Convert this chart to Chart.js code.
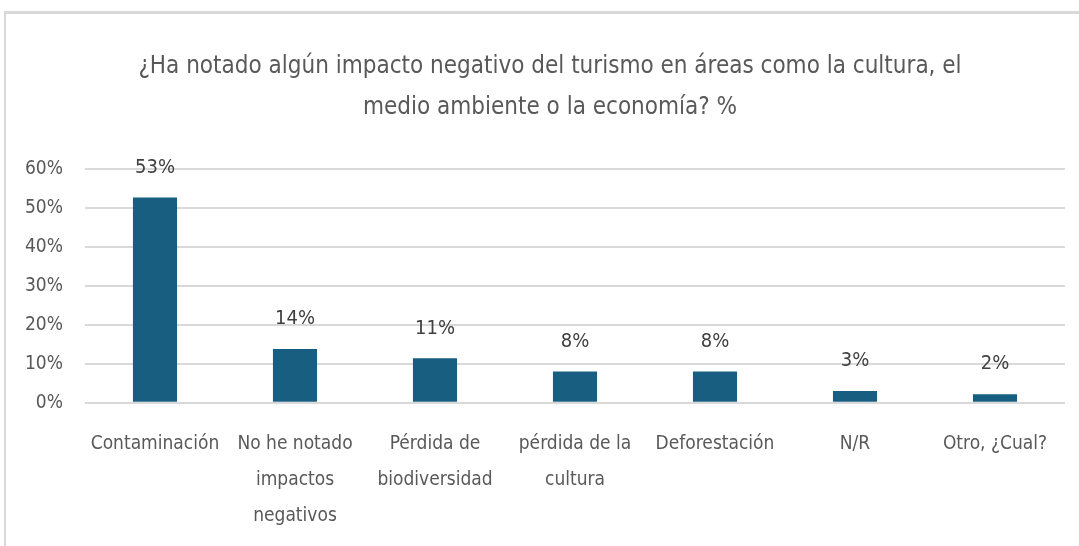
<!DOCTYPE html>
<html>
<head>
<meta charset="utf-8">
<script src="https://cdn.jsdelivr.net/npm/chart.js@4"></script>
<style>
  html, body { margin: 0; padding: 0; background: #fff; }
  .frame {
    position: absolute;
    left: 4px;
    top: 11px;
    width: 1100px;
    height: 560px;
    border-top: 3px solid #d9d9d9;
    border-left: 2px solid #d9d9d9;
  }
  .wrap {
    position: absolute;
    left: 0;
    top: 0;
    width: 1079px;
    height: 546px;
  }
</style>
</head>
<body>
<div class="frame"></div>
<div class="wrap"><canvas id="chart"></canvas></div>
<script>
const categories = [
  "Contaminación",
  ["No he notado", "impactos", "negativos"],
  ["Pérdida de", "biodiversidad"],
  ["pérdida de la", "cultura"],
  "Deforestación",
  "N/R",
  "Otro, ¿Cual?"
];
const values = [52.7, 13.8, 11.4, 8.0, 8.0, 3.0, 2.2];
const valueLabels = ["53%", "14%", "11%", "8%", "8%", "3%", "2%"];
const yTicks = [0, 10, 20, 30, 40, 50, 60];
const titleLines = [
  "¿Ha notado algún impacto negativo del turismo en áreas como la cultura, el",
  "medio ambiente o la economía? %"
];

const FONT = '"Liberation Sans Narrow", "DejaVu Sans Condensed", Roboto, sans-serif';
const TEXT = "#595959";

// title is drawn by hand so it can sit centred on the whole frame, not the padded box
const titlePlugin = {
  id: "titlePlugin",
  afterDraw(chart) {
    const ctx = chart.ctx;
    ctx.save();
    ctx.font = "24px " + FONT;
    ctx.fillStyle = TEXT;
    ctx.textAlign = "center";
    ctx.textBaseline = "middle";
    titleLines.forEach((line, i) => {
      ctx.fillText(line, 550, 67 + i * 41);
    });
    ctx.restore();
  }
};

const barLabels = {
  id: "barLabels",
  afterDatasetsDraw(chart) {
    const ctx = chart.ctx;
    const meta = chart.getDatasetMeta(0);
    ctx.save();
    ctx.font = "20px " + FONT;
    ctx.fillStyle = "#404040";
    ctx.textAlign = "center";
    ctx.textBaseline = "middle";
    meta.data.forEach((bar, i) => {
      ctx.fillText(valueLabels[i], bar.x, bar.y - 30);
    });
    ctx.restore();
  }
};

new Chart(document.getElementById("chart"), {
  type: "bar",
  data: {
    labels: categories,
    datasets: [{
      data: values,
      backgroundColor: "#175E80",
      borderWidth: 0,
      barPercentage: 0.63,
      categoryPercentage: 0.5
    }]
  },
  options: {
    responsive: true,
    maintainAspectRatio: false,
    animation: false,
    layout: { padding: { left: 3, right: 14, top: 169, bottom: -3 } },
    plugins: {
      legend: { display: false },
      tooltip: { enabled: false },
      title: { display: false }
    },
    scales: {
      x: {
        grid: { display: false },
        border: { display: false },
        ticks: {
          color: TEXT,
          font: { family: FONT, size: 19, lineHeight: 1.9 },
          maxRotation: 0,
          autoSkip: false,
          padding: 15
        }
      },
      y: {
        min: 0,
        max: 60,
        afterBuildTicks(axis) {
          axis.ticks = yTicks.map(v => ({ value: v }));
        },
        grid: { color: "#d9d9d9", lineWidth: 2, drawTicks: false },
        border: { display: false },
        ticks: {
          color: TEXT,
          font: { family: FONT, size: 19 },
          padding: 22,
          callback: v => v + "%"
        }
      }
    }
  },
  plugins: [barLabels, titlePlugin]
});
</script>
</body>
</html>
